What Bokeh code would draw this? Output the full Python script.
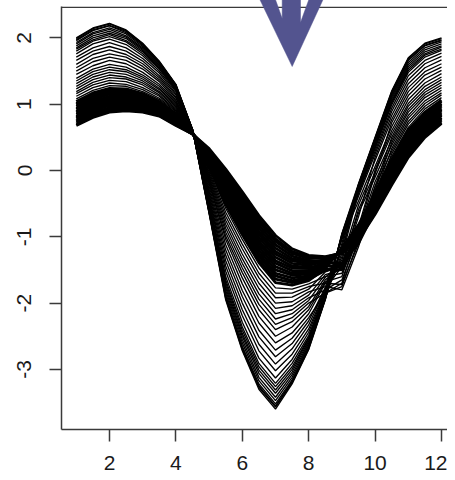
from bokeh.plotting import figure
from bokeh.models import Range1d, FixedTicker, Span
from bokeh.embed import file_html
from bokeh.resources import INLINE

# ---------------- data ----------------
months = [1, 1.5, 2, 2.5, 3, 3.5, 4, 4.5, 5, 5.5, 6, 6.5, 7, 7.5, 8, 8.5,
          9, 9.5, 10, 10.5, 11, 11.5, 12]
x_ticks = [2, 4, 6, 8, 10, 12]
y_ticks = [-3, -2, -1, 0, 1, 2]

# dense group of low-amplitude profiles
shallow_series = [
    [0.68, 0.80, 0.88, 0.90, 0.88, 0.82, 0.68, 0.55, 0.33, 0.02, -0.32, -0.68, -0.98, -1.18, -1.28, -1.30, -1.25, -1.05, -0.66, -0.22, 0.20, 0.50, 0.71],
    [0.70, 0.82, 0.90, 0.92, 0.90, 0.83, 0.69, 0.55, 0.31, -0.02, -0.36, -0.73, -1.03, -1.22, -1.31, -1.31, -1.24, -1.03, -0.64, -0.19, 0.23, 0.53, 0.73],
    [0.73, 0.85, 0.93, 0.94, 0.92, 0.85, 0.70, 0.55, 0.30, -0.05, -0.41, -0.77, -1.07, -1.25, -1.33, -1.32, -1.24, -1.02, -0.62, -0.17, 0.25, 0.55, 0.76],
    [0.75, 0.87, 0.95, 0.97, 0.94, 0.86, 0.71, 0.55, 0.28, -0.09, -0.45, -0.82, -1.12, -1.29, -1.36, -1.39, -1.40, -1.10, -0.60, -0.14, 0.28, 0.58, 0.78],
    [0.78, 0.90, 0.98, 0.99, 0.96, 0.88, 0.73, 0.56, 0.26, -0.12, -0.49, -0.87, -1.17, -1.33, -1.38, -1.35, -1.23, -0.99, -0.58, -0.12, 0.31, 0.60, 0.80],
    [0.80, 0.92, 1.00, 1.01, 0.97, 0.90, 0.74, 0.56, 0.24, -0.16, -0.54, -0.92, -1.22, -1.36, -1.41, -1.36, -1.22, -0.97, -0.56, -0.09, 0.34, 0.63, 0.83],
    [0.82, 0.95, 1.03, 1.03, 0.99, 0.91, 0.75, 0.56, 0.22, -0.19, -0.58, -0.96, -1.26, -1.40, -1.43, -1.37, -1.22, -0.96, -0.54, -0.07, 0.36, 0.65, 0.85],
    [0.85, 0.97, 1.05, 1.05, 1.01, 0.93, 0.76, 0.56, 0.21, -0.23, -0.62, -1.01, -1.31, -1.44, -1.46, -1.43, -1.45, -1.04, -0.51, -0.04, 0.39, 0.68, 0.87],
    [0.87, 0.99, 1.07, 1.08, 1.03, 0.94, 0.77, 0.56, 0.19, -0.26, -0.67, -1.06, -1.36, -1.47, -1.48, -1.39, -1.21, -0.93, -0.49, -0.02, 0.42, 0.70, 0.90],
    [0.89, 1.02, 1.10, 1.10, 1.05, 0.95, 0.78, 0.56, 0.17, -0.30, -0.71, -1.10, -1.40, -1.51, -1.51, -1.41, -1.20, -0.91, -0.47, 0.01, 0.44, 0.73, 0.92],
    [0.92, 1.04, 1.12, 1.12, 1.07, 0.97, 0.79, 0.56, 0.15, -0.34, -0.75, -1.15, -1.45, -1.55, -1.54, -1.42, -1.20, -0.90, -0.45, 0.04, 0.47, 0.76, 0.94],
    [0.94, 1.07, 1.15, 1.14, 1.09, 0.98, 0.80, 0.56, 0.14, -0.37, -0.80, -1.20, -1.50, -1.58, -1.56, -1.48, -1.50, -0.98, -0.43, 0.06, 0.50, 0.78, 0.97],
    [0.97, 1.09, 1.17, 1.16, 1.10, 1.00, 0.81, 0.57, 0.12, -0.41, -0.84, -1.25, -1.55, -1.62, -1.59, -1.44, -1.19, -0.87, -0.41, 0.09, 0.52, 0.81, 0.99],
    [0.99, 1.12, 1.19, 1.19, 1.12, 1.01, 0.83, 0.57, 0.10, -0.44, -0.88, -1.29, -1.59, -1.66, -1.61, -1.45, -1.18, -0.85, -0.39, 0.11, 0.55, 0.83, 1.01],
    [1.01, 1.14, 1.22, 1.21, 1.14, 1.03, 0.84, 0.57, 0.08, -0.48, -0.93, -1.34, -1.64, -1.69, -1.64, -1.51, -1.42, -0.94, -0.37, 0.14, 0.58, 0.86, 1.04],
    [1.04, 1.17, 1.24, 1.23, 1.16, 1.04, 0.85, 0.57, 0.07, -0.51, -0.97, -1.39, -1.69, -1.73, -1.66, -1.48, -1.17, -0.82, -0.35, 0.16, 0.61, 0.88, 1.06],
]

# sparser group of high-amplitude profiles
deep_series = [
    [1.08, 1.21, 1.28, 1.27, 1.19, 1.07, 0.87, 0.57, 0.04, -0.57, -1.04, -1.47, -1.77, -1.79, -1.71, -1.60, -1.55, -1.00, -0.31, 0.21, 0.65, 0.93, 1.10],
    [1.12, 1.25, 1.32, 1.30, 1.22, 1.09, 0.89, 0.57, 0.01, -0.63, -1.11, -1.55, -1.85, -1.85, -1.75, -1.70, -1.72, -1.10, -0.40, 0.25, 0.70, 0.97, 1.14],
    [1.16, 1.29, 1.36, 1.34, 1.25, 1.12, 0.90, 0.58, -0.02, -0.69, -1.18, -1.62, -1.92, -1.91, -1.79, -1.53, -1.45, -0.95, -0.24, 0.29, 0.74, 1.01, 1.17],
    [1.19, 1.33, 1.40, 1.38, 1.29, 1.14, 0.92, 0.58, -0.05, -0.75, -1.26, -1.70, -2.00, -1.98, -1.83, -1.75, -1.80, -1.15, -0.35, 0.33, 0.79, 1.05, 1.21],
    [1.23, 1.37, 1.44, 1.41, 1.32, 1.17, 0.94, 0.58, -0.08, -0.81, -1.33, -1.78, -2.08, -2.04, -1.88, -1.57, -1.50, -0.90, -0.17, 0.38, 0.83, 1.10, 1.25],
    [1.27, 1.41, 1.48, 1.45, 1.35, 1.19, 0.96, 0.58, -0.11, -0.87, -1.40, -1.86, -2.16, -2.10, -1.92, -1.80, -1.65, -1.00, -0.30, 0.42, 0.88, 1.14, 1.29],
    [1.31, 1.45, 1.52, 1.49, 1.38, 1.22, 0.98, 0.58, -0.14, -0.93, -1.47, -1.94, -2.24, -2.16, -1.96, -1.61, -1.40, -0.64, -0.10, 0.46, 0.92, 1.18, 1.33],
    [1.35, 1.49, 1.56, 1.52, 1.41, 1.24, 1.00, 0.59, -0.17, -0.99, -1.54, -2.02, -2.32, -2.22, -2.00, -1.85, -1.75, -1.05, -0.25, 0.50, 0.97, 1.22, 1.37],
    [1.39, 1.53, 1.60, 1.56, 1.44, 1.27, 1.02, 0.59, -0.20, -1.04, -1.62, -2.10, -2.40, -2.28, -2.05, -1.65, -1.45, -0.59, -0.03, 0.55, 1.01, 1.27, 1.41],
    [1.45, 1.58, 1.66, 1.61, 1.48, 1.30, 1.04, 0.59, -0.24, -1.12, -1.71, -2.20, -2.50, -2.36, -2.10, -1.68, -1.60, -0.85, 0.01, 0.60, 1.07, 1.32, 1.46],
    [1.50, 1.64, 1.71, 1.66, 1.53, 1.34, 1.06, 0.59, -0.28, -1.20, -1.81, -2.30, -2.60, -2.45, -2.16, -1.70, -1.35, -0.52, 0.06, 0.66, 1.13, 1.38, 1.51],
    [1.55, 1.69, 1.76, 1.71, 1.57, 1.37, 1.09, 0.60, -0.32, -1.28, -1.90, -2.41, -2.71, -2.53, -2.22, -1.85, -1.70, -0.90, -0.05, 0.72, 1.19, 1.44, 1.56],
    [1.60, 1.75, 1.82, 1.75, 1.61, 1.40, 1.11, 0.60, -0.36, -1.36, -2.00, -2.51, -2.81, -2.61, -2.27, -1.76, -1.04, -0.46, 0.15, 0.77, 1.25, 1.49, 1.61],
    [1.66, 1.80, 1.87, 1.80, 1.65, 1.43, 1.14, 0.60, -0.40, -1.44, -2.10, -2.62, -2.92, -2.69, -2.33, -1.78, -1.45, -0.70, 0.20, 0.83, 1.31, 1.55, 1.67],
    [1.71, 1.85, 1.93, 1.85, 1.69, 1.47, 1.16, 0.60, -0.43, -1.52, -2.19, -2.72, -3.02, -2.77, -2.39, -1.81, -1.02, -0.39, 0.25, 0.89, 1.37, 1.61, 1.72],
    [1.76, 1.91, 1.98, 1.90, 1.73, 1.50, 1.19, 0.61, -0.47, -1.60, -2.29, -2.83, -3.13, -2.85, -2.44, -1.83, -1.00, -0.35, 0.29, 0.94, 1.43, 1.66, 1.77],
    [1.80, 1.95, 2.02, 1.94, 1.76, 1.53, 1.21, 0.61, -0.50, -1.65, -2.36, -2.91, -3.21, -2.91, -2.49, -1.85, -1.30, -0.33, 0.33, 0.99, 1.48, 1.71, 1.81],
    [1.83, 1.97, 2.05, 1.96, 1.79, 1.54, 1.22, 0.61, -0.52, -1.69, -2.41, -2.96, -3.26, -2.96, -2.52, -1.87, -0.99, -0.31, 0.35, 1.02, 1.51, 1.74, 1.83],
    [1.85, 2.00, 2.07, 1.99, 1.81, 1.56, 1.23, 0.61, -0.54, -1.73, -2.46, -3.01, -3.31, -3.00, -2.54, -1.88, -1.20, -0.29, 0.37, 1.04, 1.54, 1.76, 1.86],
    [1.88, 2.03, 2.10, 2.01, 1.83, 1.58, 1.24, 0.61, -0.56, -1.77, -2.50, -3.06, -3.36, -3.04, -2.57, -1.89, -0.98, -0.28, 0.40, 1.07, 1.57, 1.79, 1.88],
    [1.91, 2.06, 2.13, 2.03, 1.85, 1.59, 1.26, 0.62, -0.58, -1.81, -2.55, -3.12, -3.42, -3.08, -2.60, -1.91, -1.25, -0.26, 0.42, 1.10, 1.60, 1.82, 1.91],
    [1.93, 2.08, 2.15, 2.06, 1.87, 1.61, 1.27, 0.62, -0.60, -1.85, -2.60, -3.17, -3.47, -3.12, -2.63, -1.92, -0.97, -0.24, 0.44, 1.13, 1.63, 1.85, 1.94],
    [1.96, 2.11, 2.18, 2.08, 1.89, 1.63, 1.28, 0.62, -0.62, -1.89, -2.65, -3.22, -3.52, -3.16, -2.66, -1.93, -1.15, -0.23, 0.47, 1.16, 1.66, 1.88, 1.96],
    [1.97, 2.12, 2.19, 2.10, 1.90, 1.63, 1.29, 0.62, -0.63, -1.91, -2.67, -3.25, -3.55, -3.18, -2.67, -1.94, -0.96, -0.22, 0.48, 1.17, 1.67, 1.89, 1.97],
    [1.99, 2.14, 2.21, 2.11, 1.91, 1.64, 1.29, 0.62, -0.64, -1.93, -2.70, -3.27, -3.57, -3.20, -2.69, -1.94, -1.10, -0.21, 0.49, 1.19, 1.69, 1.91, 1.99],
    [2.00, 2.15, 2.22, 2.12, 1.92, 1.65, 1.30, 0.62, -0.65, -1.95, -2.72, -3.30, -3.60, -3.22, -2.70, -1.95, -0.95, -0.20, 0.50, 1.20, 1.70, 1.92, 2.00],
]

# ---------------- layout ----------------
W, H = 447, 472
TOP, LEFT, BOTTOM = 6, 61, 43
FRAME_W = W - LEFT
FRAME_H = H - TOP - BOTTOM
PX_PER_X, PX_PER_Y = 33.2, 66.3
X0 = 2 - 48 / PX_PER_X
X1 = X0 + FRAME_W / PX_PER_X
Y1 = (170 - TOP) / PX_PER_Y
Y0 = Y1 - FRAME_H / PX_PER_Y
AXIS_COLOR = "#3a3a3a"
FONT = "Liberation Sans"

p = figure(width=W, height=H, output_backend="svg", toolbar_location=None,
           x_range=Range1d(X0, X1), y_range=Range1d(Y0, Y1),
           min_border_left=LEFT, min_border_bottom=BOTTOM,
           min_border_top=TOP, min_border_right=0)
p.background_fill_color = "white"
p.border_fill_color = "white"
p.outline_line_color = None
p.grid.visible = False

p.multi_line([months] * len(shallow_series), shallow_series,
             line_color="black", line_width=2.8)
p.multi_line([months] * len(deep_series), deep_series,
             line_color="black", line_width=1.35)

for ax in (p.xaxis[0], p.yaxis[0]):
    ax.axis_line_color = AXIS_COLOR
    ax.axis_line_width = 1.5
    ax.major_tick_line_color = AXIS_COLOR
    ax.major_tick_line_width = 1.5
    ax.major_tick_out = 12
    ax.major_tick_in = 0
    ax.minor_tick_line_color = None
    ax.major_label_text_font = FONT
    ax.major_label_text_font_size = "21px"
    ax.major_label_text_color = "#1a1a1a"

p.xaxis[0].major_label_standoff = 14
p.yaxis[0].major_label_standoff = 18
p.xaxis[0].ticker = FixedTicker(ticks=x_ticks)
p.yaxis[0].ticker = FixedTicker(ticks=y_ticks)
p.xaxis[0].major_label_overrides = {t: str(t) for t in x_ticks}
p.yaxis[0].major_label_overrides = {t: str(t) for t in y_ticks}
p.yaxis[0].major_label_orientation = "vertical"

# top side of the plot box
p.add_layout(Span(location=Y1 - 0.012, dimension="width",
                  line_color=AXIS_COLOR, line_width=1.5))

# decorative down arrow (pixel geometry converted to data space)
arrow_px_x = [255, 271.7, 281.7, 281.7, 300, 300, 311.7, 326.7, 291.7]
arrow_px_y = [-10, -10, 18, -10, -10, 22, -10, -10, 66]
ax_d = [X0 + (px - LEFT) / PX_PER_X for px in arrow_px_x]
ay_d = [Y1 - (py - TOP) / PX_PER_Y for py in arrow_px_y]
arrow = p.patch(ax_d, ay_d, fill_color="#53548f", line_color="#53548f", line_width=0.5)
arrow.level = "overlay"

open("out.html", "w").write(file_html(p, INLINE))
